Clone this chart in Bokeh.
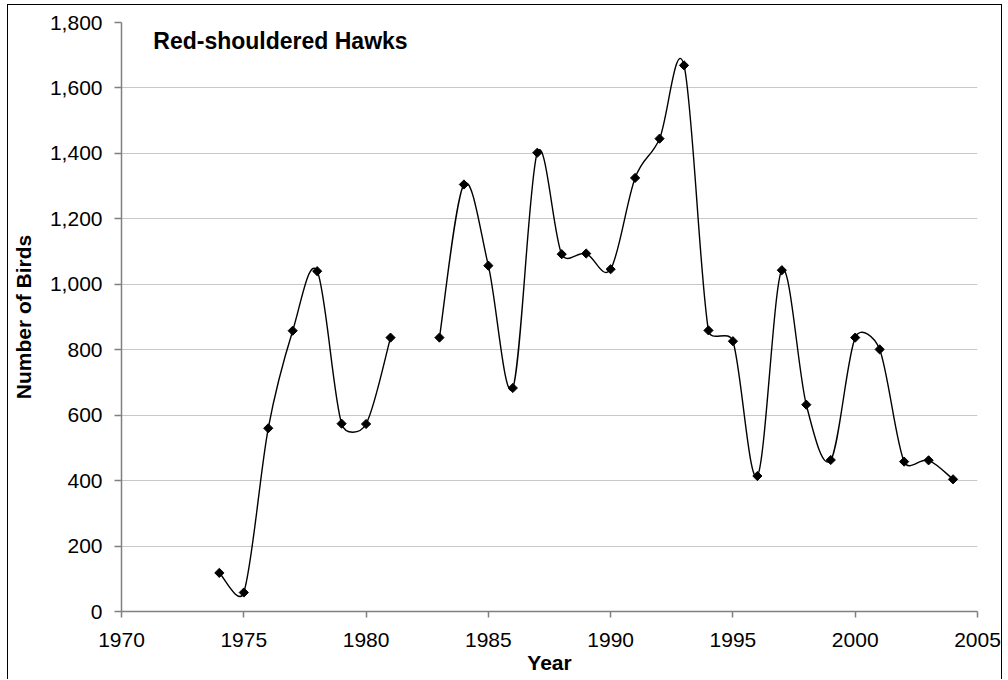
import numpy as np
from bokeh.plotting import figure
from bokeh.models import Range1d, FixedTicker, NumeralTickFormatter, Label
from bokeh.embed import file_html
from bokeh.resources import INLINE

# ---- data ----
years = [1974, 1975, 1976, 1977, 1978, 1979, 1980, 1981, 1982, 1983,
         1984, 1985, 1986, 1987, 1988, 1989, 1990, 1991, 1992, 1993,
         1994, 1995, 1996, 1997, 1998, 1999, 2000, 2001, 2002, 2003, 2004]
birds = [118, 58, 560, 858, 1040, 574, 573, 837, None, 837,
         1305, 1057, 683, 1402, 1092, 1094, 1046, 1325, 1445, 1669,
         859, 826, 414, 1043, 632, 463, 837, 801, 458, 462, 404]
x_ticks = [1970, 1975, 1980, 1985, 1990, 1995, 2000, 2005]
y_ticks = [0, 200, 400, 600, 800, 1000, 1200, 1400, 1600, 1800]
title_text = "Red-shouldered Hawks"
x_label = "Year"
y_label = "Number of Birds"

FONT = "Liberation Sans"

# layout (pixels)
W, H = 995, 675
ML, MR, MT, MB = 110, 26, 17, 69
FRAME_W = W - ML - MR
FRAME_H = H - MT - MB


def split_runs(xs, ys):
    runs, cur = [], []
    for x, y in zip(xs, ys):
        if y is None:
            if cur:
                runs.append(cur)
            cur = []
        else:
            cur.append((x, y))
    if cur:
        runs.append(cur)
    return runs


def smooth_segments(run, sx, sy):
    """Excel-like smoothing: Catmull-Rom Bezier handles (1/6), each handle
    limited to half of the segment length, measured in screen space."""
    P = np.array(run, dtype=float)
    S = np.array([sx, sy])
    n = len(P)
    out = []
    for i in range(n - 1):
        p0 = P[i - 1] if i > 0 else P[i]
        p1, p2 = P[i], P[i + 1]
        p3 = P[i + 2] if i + 2 < n else P[i + 1]
        half = np.linalg.norm((p2 - p1) * S) / 2.0
        v1 = (p2 - p0) / 6.0
        v2 = (p3 - p1) / 6.0
        l1 = np.linalg.norm(v1 * S)
        l2 = np.linalg.norm(v2 * S)
        if l1 > half:
            v1 = v1 * half / l1
        if l2 > half:
            v2 = v2 * half / l2
        out.append((p1, p2, p1 + v1, p2 - v2))
    return out


p = figure(width=W, height=H, output_backend="svg", toolbar_location=None,
           x_range=Range1d(x_ticks[0], x_ticks[-1]),
           y_range=Range1d(y_ticks[0], y_ticks[-1]),
           min_border_left=ML, min_border_right=MR,
           min_border_top=MT, min_border_bottom=MB)
p.styles = {"border-left": "1px solid #000", "border-top": "1px solid #000",
            "border-right": "1px solid #000",
            "margin-top": "4px", "margin-left": "7px",
            "margin-bottom": "-10px"}
p.outline_line_color = None
p.background_fill_color = "white"
p.border_fill_color = "white"

sx = FRAME_W / (x_ticks[-1] - x_ticks[0])
sy = FRAME_H / (y_ticks[-1] - y_ticks[0])
for run in split_runs(years, birds):
    segs = smooth_segments(run, sx, sy)
    p.bezier(x0=[s[0][0] for s in segs], y0=[s[0][1] for s in segs],
             x1=[s[1][0] for s in segs], y1=[s[1][1] for s in segs],
             cx0=[s[2][0] for s in segs], cy0=[s[2][1] for s in segs],
             cx1=[s[3][0] for s in segs], cy1=[s[3][1] for s in segs],
             line_color="black", line_width=1.4)

valid_x = [x for x, y in zip(years, birds) if y is not None]
valid_y = [y for y in birds if y is not None]
p.scatter(valid_x, valid_y, marker="square", angle=np.pi / 4, size=6.5,
          fill_color="black", line_color="black")

# axes
for ax in (p.xaxis[0], p.yaxis[0]):
    ax.axis_line_color = "#808080"
    ax.axis_line_width = 1.5
    ax.major_tick_line_color = "#808080"
    ax.major_tick_line_width = 1.5
    ax.minor_tick_line_color = None
    ax.major_tick_in = 0
    ax.major_label_text_font = FONT
    ax.major_label_text_font_size = "21px"
    ax.major_label_text_color = "black"
    ax.axis_label_text_font = FONT
    ax.axis_label_text_font_size = "21px"
    ax.axis_label_text_font_style = "bold"
    ax.axis_label_text_color = "black"

p.xaxis.ticker = FixedTicker(ticks=x_ticks)
p.yaxis.ticker = FixedTicker(ticks=y_ticks)
p.yaxis.formatter = NumeralTickFormatter(format="0,0")
p.xaxis.major_tick_out = 6
p.yaxis.major_tick_out = 7
p.xaxis.major_label_standoff = 15
p.yaxis.major_label_standoff = 12
p.xaxis.axis_label = x_label
p.yaxis.axis_label = y_label
p.xaxis.axis_label_standoff = 1
p.yaxis.axis_label_standoff = 12

p.xgrid.visible = False
p.ygrid.ticker = FixedTicker(ticks=y_ticks[1:-1])
p.ygrid.grid_line_color = "#c8c8c8"
p.ygrid.grid_line_width = 1.2

p.add_layout(Label(x=1971.3, y=1742, text=title_text, text_font=FONT,
                   text_font_size="23px", text_font_style="bold",
                   text_baseline="alphabetic", text_color="black"))

open("out.html", "w").write(file_html(p, INLINE))
